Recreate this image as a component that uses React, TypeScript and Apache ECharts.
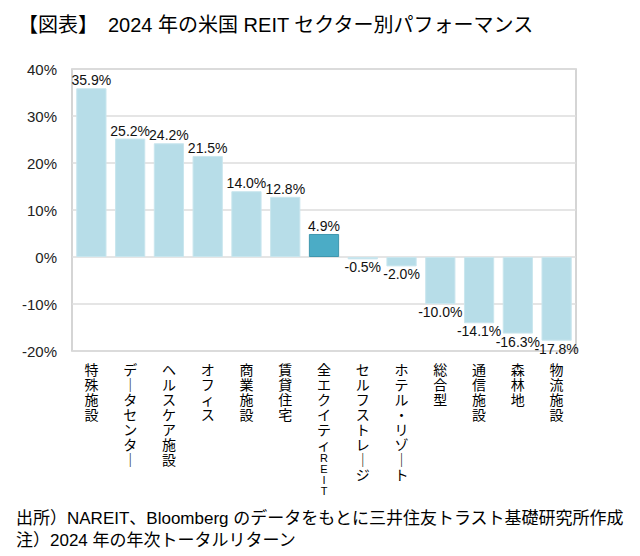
import React, { useEffect, useRef } from "react";
import * as echarts from "echarts";

const categories = [
  "特殊施設",
  "データセンター",
  "ヘルスケア施設",
  "オフィス",
  "商業施設",
  "賃貸住宅",
  "全エクイティREIT",
  "セルフストレージ",
  "ホテル・リゾート",
  "総合型",
  "通信施設",
  "森林地",
  "物流施設",
];
const values = [35.9, 25.2, 24.2, 21.5, 14.0, 12.8, 4.9, -0.5, -2.0, -10.0, -14.1, -16.3, -17.8];
const highlighted = "全エクイティREIT";
const yMin = -20;
const yMax = 40;
const yStep = 10;

const titleText = "【図表】　2024 年の米国 REIT セクター別パフォーマンス";
const note1 = "出所）NAREIT、Bloomberg のデータをもとに三井住友トラスト基礎研究所作成";
const note2 = "注）2024 年の年次トータルリターン";

const FONT = '"Liberation Sans", Arial, "Noto Sans CJK JP", sans-serif';

function verticalize(s: string): string {
  return Array.from(s)
    .map((c) => {
      const ch = c === "ー" ? "｜" : c;
      return /[A-Za-z]/.test(c) ? `{l|${ch}}` : `{c|${ch}}`;
    })
    .join("\n");
}

export default function App() {
  const ref = useRef<HTMLDivElement>(null);
  useEffect(() => {
    if (!ref.current) return;
    const chart = echarts.init(ref.current, undefined, { renderer: "svg" });
    const data = values.map((v, i) => ({
      value: v,
      itemStyle:
        categories[i] === highlighted
          ? { color: "#4bacc6", borderColor: "#3f97ae", borderWidth: 1 }
          : { color: "#b7dde8", borderColor: "#c9e6ee", borderWidth: 1 },
      label: { position: v >= 0 ? "top" : "bottom" },
    }));
    chart.setOption({
      animation: false,
      textStyle: { fontFamily: FONT },
      title: {
        text: titleText,
        left: 13,
        top: 10,
        textStyle: { fontSize: 20, fontWeight: "normal", color: "#000", fontFamily: FONT },
      },
      graphic: [
        {
          type: "text",
          left: 16,
          top: 510,
          style: { text: note1, fontSize: 17, fill: "#000", fontFamily: FONT },
        },
        {
          type: "text",
          left: 16,
          top: 532,
          style: { text: note2, fontSize: 17, fill: "#000", fontFamily: FONT },
        },
      ],
      grid: {
        left: 72,
        right: 64,
        top: 69,
        bottom: 205,
        show: true,
        borderColor: "#c8c8c8",
        borderWidth: 1.5,
        containLabel: false,
      },
      xAxis: {
        type: "category",
        data: categories,
        axisLine: { show: false },
        axisTick: { show: false },
        axisLabel: {
          interval: 0,
          margin: 11,
          color: "#000",
          verticalAlign: "top",
          fontFamily: FONT,
          formatter: (v: string) => verticalize(v),
          rich: {
            c: { fontSize: 14, lineHeight: 15, color: "#000", fontFamily: FONT },
            l: { fontSize: 11, lineHeight: 11, color: "#000", fontFamily: FONT },
          },
        },
      },
      yAxis: {
        type: "value",
        min: yMin,
        max: yMax,
        interval: yStep,
        axisLine: { show: false },
        axisTick: { show: false },
        splitLine: { lineStyle: { color: "#dcdcdc", width: 1.5 } },
        axisLabel: {
          fontSize: 15,
          color: "#222",
          margin: 15,
          formatter: (v: number) => `${v}%`,
          fontFamily: FONT,
        },
      },
      series: [
        {
          type: "bar",
          data,
          barCategoryGap: "22%",
          label: {
            show: true,
            distance: 1,
            fontSize: 14,
            color: "#111",
            fontFamily: FONT,
            formatter: (p: any) => `${Number(p.value).toFixed(1)}%`,
          },
        },
      ],
    });
    return () => chart.dispose();
  }, []);
  return (
    <div
      ref={ref}
      style={{ position: "fixed", left: 0, top: 0, width: 640, height: 556, background: "#fff" }}
    />
  );
}
